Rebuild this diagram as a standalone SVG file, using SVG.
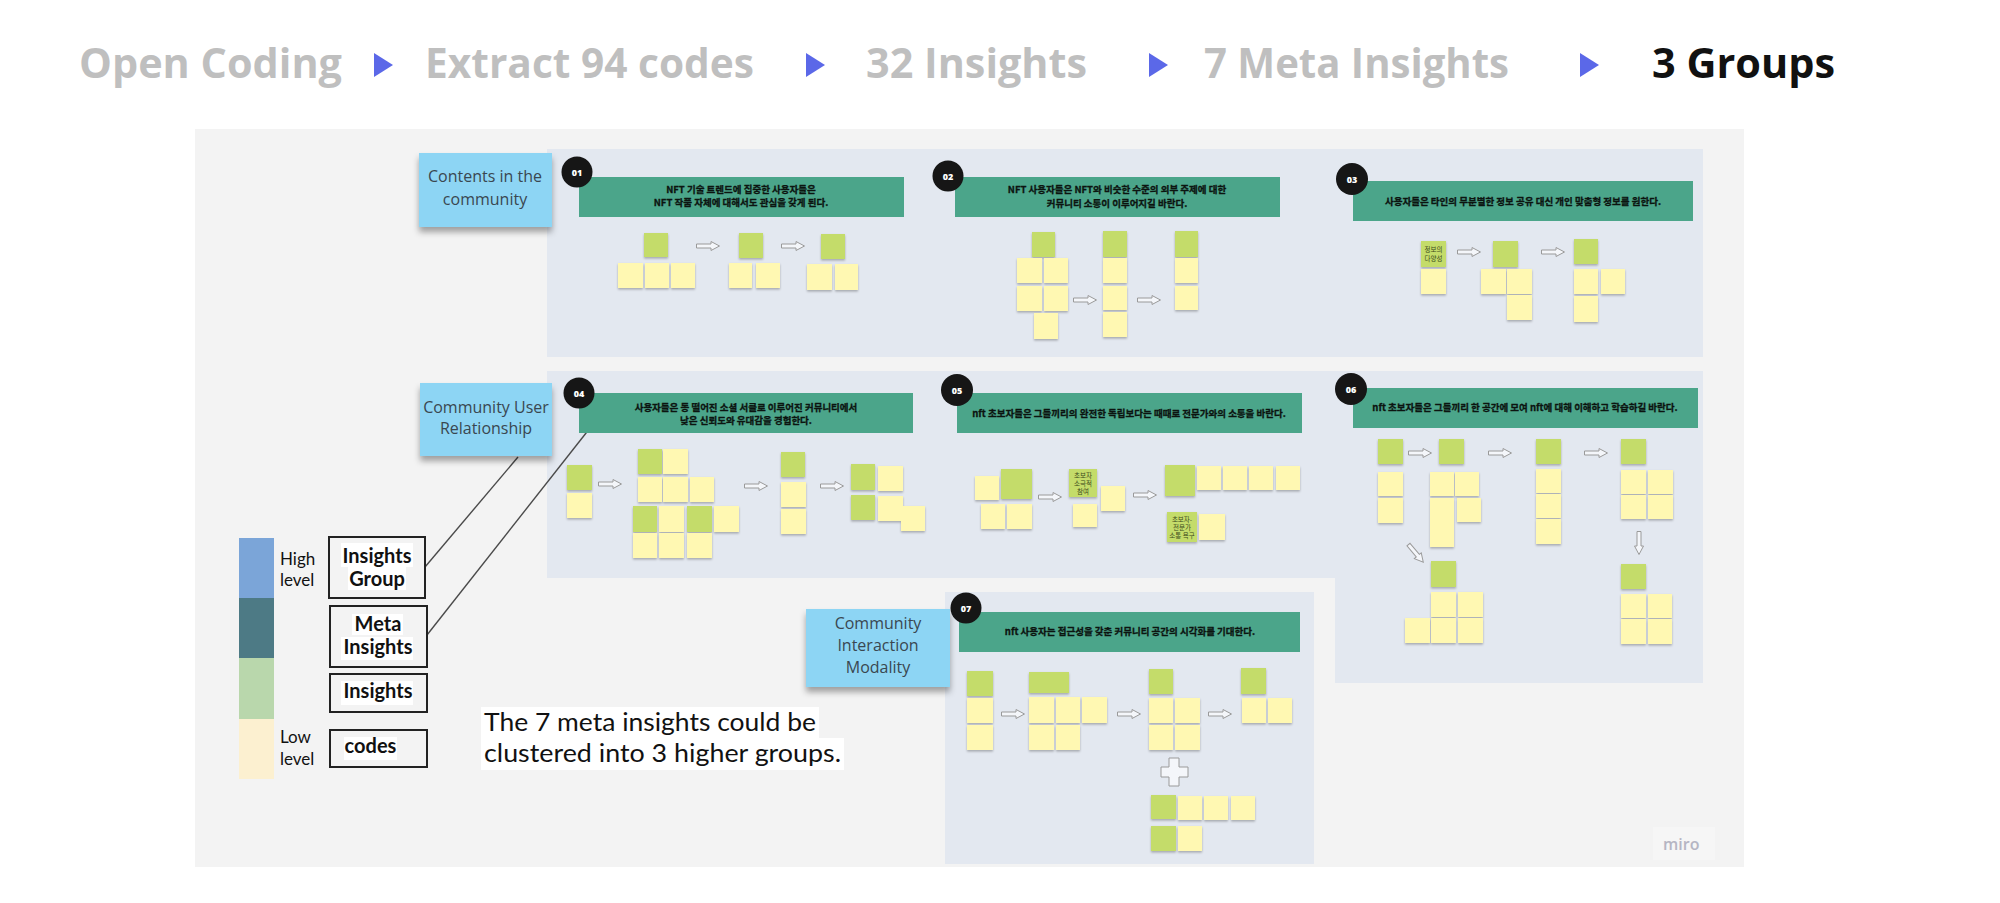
<svg xmlns="http://www.w3.org/2000/svg" width="2000" height="903" viewBox="0 0 2000 903">
<defs>
<style>
.hd{font-family:"Open Sans","Noto Sans",sans-serif;font-weight:700;font-size:42px;fill:#bfbfbf}
.tri{fill:#5b68e8}
.panel{fill:#e3e8f0}
.bar{fill:#4ba58a}
.bt{font-family:"Noto Sans CJK KR","Noto Sans",sans-serif;font-size:9.5px;font-weight:700;fill:#0c1410;stroke:#0c1410;stroke-width:0.3;text-anchor:middle}
.circ{fill:#161616}
.ct{font-family:"Open Sans",sans-serif;font-size:9px;font-weight:800;fill:#fff;text-anchor:middle}
.sg{fill:#c4dc6a}
.sy{fill:#fff8b2}
.st{font-family:"Noto Sans CJK KR",sans-serif;font-size:6.5px;fill:#3b4a1a;text-anchor:middle}
.blue{fill:#8dd5f4}
.bl{font-family:"Open Sans","Noto Sans",sans-serif;font-size:16px;fill:#3a4750;text-anchor:middle}
.lg{font-family:Lato,"Open Sans",sans-serif;font-size:17px;fill:#111}
.lb{font-family:Lato,"Open Sans",sans-serif;font-size:20px;font-weight:700;fill:#111;text-anchor:middle}
.box{fill:none;stroke:#222;stroke-width:2}
.wh{fill:#fff}
.conn{stroke:#4a4a4a;stroke-width:1.4;fill:none}
.cap{font-family:Lato,"Open Sans",sans-serif;font-size:25px;fill:#111}
</style>
<filter id="ss" x="-20%" y="-20%" width="140%" height="160%"><feDropShadow dx="0" dy="1.5" stdDeviation="0.8" flood-color="#000" flood-opacity="0.28"/></filter>
<filter id="bs" x="-20%" y="-20%" width="140%" height="160%"><feDropShadow dx="0" dy="5" stdDeviation="3" flood-color="#000" flood-opacity="0.35"/></filter>
<path id="arr" d="M0.5,3 H15 V0.5 L23.5,5 L15,9.5 V7 H0.5 Z" fill="#f4f6fa" stroke="#9a9a9a" stroke-width="1"/>
</defs>

<rect width="2000" height="903" fill="#ffffff"/>

<g id="header">
<text class="hd" x="79" y="78" textLength="263" lengthAdjust="spacingAndGlyphs">Open Coding</text>
<polygon class="tri" points="374,53 393,65 374,77"/>
<text class="hd" x="425" y="78" textLength="329" lengthAdjust="spacingAndGlyphs">Extract 94 codes</text>
<polygon class="tri" points="806,53 825,65 806,77"/>
<text class="hd" x="866" y="78" textLength="221" lengthAdjust="spacingAndGlyphs">32 Insights</text>
<polygon class="tri" points="1149,53 1168,65 1149,77"/>
<text class="hd" x="1204" y="78" textLength="305" lengthAdjust="spacingAndGlyphs">7 Meta Insights</text>
<polygon class="tri" points="1580,53 1599,65 1580,77"/>
<text class="hd" x="1652" y="78" textLength="183" lengthAdjust="spacingAndGlyphs" style="fill:#111">3 Groups</text>
</g>

<g id="board">
<rect x="195" y="129" width="1549" height="738" fill="#f3f3f3"/>
<rect x="1653" y="827" width="62" height="33" fill="#f6f6f6"/>
<text x="1663" y="850" style="font-family:'Open Sans',sans-serif;font-size:16px;font-weight:600;fill:#b5b5c3">miro</text>
<rect class="panel" x="547" y="149" width="1156" height="208"/>
<rect class="panel" x="547" y="371" width="788" height="207"/>
<rect class="panel" x="1335" y="371" width="368" height="312"/>
<rect class="panel" x="945" y="592" width="369" height="272"/>
</g>

<g id="connectors">
<line class="conn" x1="425" y1="567" x2="518" y2="457"/>
<line class="conn" x1="427" y1="635" x2="590" y2="428"/>
</g>

<g id="label-contents">
<rect class="blue" x="419" y="153" width="133" height="74" filter="url(#bs)"/>
<text class="bl" x="485" y="182">Contents in the</text>
<text class="bl" x="485" y="205">community</text>
</g>
<g id="label-relationship">
<rect class="blue" x="420" y="383" width="132" height="73" filter="url(#bs)"/>
<text class="bl" x="486" y="413">Community User</text>
<text class="bl" x="486" y="434">Relationship</text>
</g>
<g id="label-modality">
<rect class="blue" x="806" y="609" width="144" height="78" filter="url(#bs)"/>
<text class="bl" x="878" y="629">Community</text>
<text class="bl" x="878" y="651">Interaction</text>
<text class="bl" x="878" y="673">Modality</text>
</g>

<g id="insight-01">
<rect class="bar" x="579" y="177" width="325" height="40"/>
<circle class="circ" cx="577" cy="172" r="15.5"/><text class="ct" x="577" y="175.5">01</text>
<text class="bt" x="741" y="193">NFT 기술 트렌드에 집중한 사용자들은</text>
<text class="bt" x="741" y="206">NFT 작품 자체에 대해서도 관심을 갖게 된다.</text>
<g filter="url(#ss)">
<rect class="sg" x="644" y="233" width="24" height="24"/><rect class="sg" x="739" y="233" width="24" height="25"/><rect class="sg" x="821" y="234" width="24" height="25"/>
<rect class="sy" x="618" y="263" width="25" height="25"/><rect class="sy" x="645" y="263" width="24" height="25"/><rect class="sy" x="671" y="263" width="24" height="25"/>
<rect class="sy" x="729" y="263" width="23" height="25"/><rect class="sy" x="756" y="263" width="24" height="25"/>
<rect class="sy" x="807" y="264" width="25" height="26"/><rect class="sy" x="835" y="264" width="23" height="26"/>
</g>
<use href="#arr" x="696" y="241"/><use href="#arr" x="781" y="241"/>
</g>

<g id="insight-02">
<rect class="bar" x="955" y="177" width="325" height="40"/>
<circle class="circ" cx="948" cy="176" r="15.5"/><text class="ct" x="948" y="179.5">02</text>
<text class="bt" x="1117" y="193">NFT 사용자들은 NFT와 비슷한 수준의 외부 주제에 대한</text>
<text class="bt" x="1117" y="206.5">커뮤니티 소통이 이루어지길 바란다.</text>
<g filter="url(#ss)">
<rect class="sg" x="1032" y="232" width="23" height="25"/><rect class="sg" x="1103" y="231" width="24" height="26"/><rect class="sg" x="1175" y="231" width="23" height="26"/>
<rect class="sy" x="1017" y="258" width="25" height="25"/><rect class="sy" x="1044" y="258" width="24" height="25"/>
<rect class="sy" x="1017" y="286" width="25" height="25"/><rect class="sy" x="1044" y="286" width="24" height="25"/>
<rect class="sy" x="1034" y="313" width="24" height="26"/>
<rect class="sy" x="1103" y="258" width="24" height="25"/><rect class="sy" x="1103" y="286" width="24" height="24"/><rect class="sy" x="1103" y="312" width="24" height="25"/>
<rect class="sy" x="1175" y="258" width="23" height="25"/><rect class="sy" x="1175" y="286" width="23" height="24"/>
</g>
<use href="#arr" x="1073" y="295"/><use href="#arr" x="1137" y="295"/>
</g>

<g id="insight-03">
<rect class="bar" x="1353" y="181" width="340" height="40"/>
<circle class="circ" cx="1352" cy="179" r="16"/><text class="ct" x="1352" y="182.5">03</text>
<text class="bt" x="1523" y="204.5">사용자들은 타인의 무분별한 정보 공유 대신 개인 맞춤형 정보를 원한다.</text>
<g filter="url(#ss)">
<rect class="sg" x="1421" y="241" width="25" height="26"/><rect class="sg" x="1493" y="241" width="25" height="26"/><rect class="sg" x="1574" y="239" width="24" height="25"/>
<rect class="sy" x="1421" y="269" width="25" height="25"/>
<rect class="sy" x="1481" y="269" width="25" height="25"/><rect class="sy" x="1507" y="269" width="25" height="25"/><rect class="sy" x="1507" y="295" width="25" height="25"/>
<rect class="sy" x="1574" y="269" width="24" height="25"/><rect class="sy" x="1601" y="269" width="24" height="25"/><rect class="sy" x="1574" y="296" width="24" height="26"/>
</g>
<text class="st" x="1433.5" y="252">정보의</text><text class="st" x="1433.5" y="261">다양성</text>
<use href="#arr" x="1457" y="247"/><use href="#arr" x="1541" y="247"/>
</g>

<g id="insight-04">
<rect class="bar" x="579" y="393" width="334" height="40"/>
<circle class="circ" cx="579" cy="393" r="15.5"/><text class="ct" x="579" y="396.5">04</text>
<text class="bt" x="746" y="410.5">사용자들은 동 떨어진 소셜 서클로 이루어진 커뮤니티에서</text>
<text class="bt" x="746" y="423.5">낮은 신뢰도와 유대감을 경험한다.</text>
<g filter="url(#ss)">
<rect class="sg" x="567" y="465" width="25" height="25"/><rect class="sy" x="567" y="493" width="25" height="25"/>
<rect class="sg" x="638" y="449" width="24" height="25"/><rect class="sy" x="663" y="449" width="25" height="25"/>
<rect class="sy" x="638" y="477" width="24" height="25"/><rect class="sy" x="663" y="477" width="25" height="25"/><rect class="sy" x="690" y="477" width="24" height="25"/>
<rect class="sg" x="633" y="506" width="24" height="26"/><rect class="sy" x="659" y="506" width="25" height="26"/><rect class="sg" x="687" y="506" width="25" height="26"/><rect class="sy" x="714" y="506" width="25" height="26"/>
<rect class="sy" x="633" y="533" width="24" height="25"/><rect class="sy" x="659" y="533" width="25" height="25"/><rect class="sy" x="687" y="533" width="25" height="25"/>
<rect class="sg" x="781" y="452" width="24" height="25"/><rect class="sy" x="781" y="482" width="25" height="25"/><rect class="sy" x="781" y="509" width="25" height="25"/>
<rect class="sg" x="851" y="464" width="24" height="26"/><rect class="sy" x="878" y="466" width="25" height="25"/>
<rect class="sg" x="851" y="495" width="24" height="25"/><rect class="sy" x="878" y="496" width="25" height="25"/><rect class="sy" x="901" y="506" width="24" height="25"/>
</g>
<use href="#arr" x="598" y="479"/><use href="#arr" x="744" y="481"/><use href="#arr" x="820" y="481"/>
</g>

<g id="insight-05">
<rect class="bar" x="957" y="393" width="345" height="40"/>
<circle class="circ" cx="957" cy="390" r="16"/><text class="ct" x="957" y="393.5">05</text>
<text class="bt" x="1129" y="416.5">nft 초보자들은 그들끼리의 완전한 독립보다는 때때로 전문가와의 소통을 바란다.</text>
<g filter="url(#ss)">
<rect class="sy" x="975" y="476" width="24" height="24"/><rect class="sg" x="1001" y="469" width="31" height="30"/>
<rect class="sy" x="981" y="504" width="24" height="25"/><rect class="sy" x="1007" y="504" width="25" height="25"/>
<rect class="sg" x="1069" y="469" width="28" height="28"/><rect class="sy" x="1073" y="504" width="24" height="23"/><rect class="sy" x="1101" y="486" width="24" height="25"/>
<rect class="sg" x="1165" y="465" width="30" height="31"/>
<rect class="sy" x="1197" y="466" width="24" height="24"/><rect class="sy" x="1223" y="466" width="24" height="24"/><rect class="sy" x="1249" y="466" width="24" height="24"/><rect class="sy" x="1276" y="466" width="24" height="24"/>
<rect class="sg" x="1167" y="512" width="30" height="30"/><rect class="sy" x="1199" y="514" width="26" height="26"/>
</g>
<text class="st" x="1083" y="478">초보자</text><text class="st" x="1083" y="486">소극적</text><text class="st" x="1083" y="494">참여</text>
<text class="st" x="1182" y="522">초보자-</text><text class="st" x="1182" y="530">전문가</text><text class="st" x="1182" y="538">소통 욕구</text>
<use href="#arr" x="1038" y="492"/><use href="#arr" x="1133" y="490"/>
</g>

<g id="insight-06">
<rect class="bar" x="1353" y="388" width="345" height="40"/>
<circle class="circ" cx="1351" cy="389" r="16"/><text class="ct" x="1351" y="392.5">06</text>
<text class="bt" x="1525" y="410.5">nft 초보자들은 그들끼리 한 공간에 모여 nft에 대해 이해하고 학습하길 바란다.</text>
<g filter="url(#ss)">
<rect class="sg" x="1378" y="439" width="25" height="25"/><rect class="sy" x="1378" y="472" width="25" height="24"/><rect class="sy" x="1378" y="498" width="25" height="25"/>
<rect class="sg" x="1439" y="439" width="25" height="25"/>
<rect class="sy" x="1430" y="472" width="24" height="24"/><rect class="sy" x="1455" y="472" width="24" height="24"/>
<rect class="sy" x="1430" y="498" width="24" height="25"/><rect class="sy" x="1457" y="498" width="24" height="24"/><rect class="sy" x="1430" y="523" width="24" height="24"/>
<rect class="sg" x="1431" y="561" width="25" height="26"/>
<rect class="sy" x="1431" y="592" width="25" height="25"/><rect class="sy" x="1458" y="592" width="25" height="25"/>
<rect class="sy" x="1405" y="618" width="25" height="25"/><rect class="sy" x="1431" y="618" width="25" height="25"/><rect class="sy" x="1458" y="618" width="25" height="25"/>
<rect class="sg" x="1536" y="439" width="25" height="25"/><rect class="sy" x="1536" y="469" width="25" height="24"/><rect class="sy" x="1536" y="494" width="25" height="24"/><rect class="sy" x="1536" y="519" width="25" height="25"/>
<rect class="sg" x="1621" y="439" width="25" height="25"/>
<rect class="sy" x="1621" y="470" width="25" height="24"/><rect class="sy" x="1621" y="495" width="25" height="24"/><rect class="sy" x="1648" y="470" width="25" height="24"/><rect class="sy" x="1648" y="495" width="25" height="24"/>
<rect class="sg" x="1621" y="564" width="25" height="25"/>
<rect class="sy" x="1621" y="594" width="25" height="24"/><rect class="sy" x="1648" y="594" width="24" height="24"/><rect class="sy" x="1621" y="619" width="25" height="25"/><rect class="sy" x="1648" y="619" width="24" height="25"/>
</g>
<use href="#arr" x="1408" y="448"/><use href="#arr" x="1488" y="448"/><use href="#arr" x="1584" y="448"/>
<use href="#arr" transform="translate(1644,531) rotate(90)"/>
<use href="#arr" transform="translate(1412,541) rotate(50)"/>
</g>

<g id="insight-07">
<rect class="bar" x="959" y="612" width="341" height="40"/>
<circle class="circ" cx="966" cy="608" r="15.5"/><text class="ct" x="966" y="611.5">07</text>
<text class="bt" x="1130" y="634.5">nft 사용자는 접근성을 갖춘 커뮤니티 공간의 시각화를 기대한다.</text>
<g filter="url(#ss)">
<rect class="sg" x="967" y="671" width="26" height="25"/><rect class="sy" x="967" y="698" width="26" height="25"/><rect class="sy" x="967" y="725" width="26" height="25"/>
<rect class="sg" x="1029" y="672" width="40" height="21"/>
<rect class="sy" x="1029" y="697" width="25" height="26"/><rect class="sy" x="1056" y="697" width="24" height="26"/><rect class="sy" x="1082" y="697" width="25" height="26"/>
<rect class="sy" x="1029" y="725" width="25" height="25"/><rect class="sy" x="1056" y="725" width="24" height="25"/>
<rect class="sg" x="1149" y="669" width="24" height="25"/>
<rect class="sy" x="1149" y="698" width="24" height="25"/><rect class="sy" x="1175" y="698" width="25" height="25"/><rect class="sy" x="1149" y="725" width="24" height="25"/><rect class="sy" x="1175" y="725" width="25" height="25"/>
<rect class="sg" x="1151" y="795" width="25" height="24"/><rect class="sy" x="1178" y="796" width="24" height="24"/><rect class="sy" x="1204" y="796" width="24" height="24"/><rect class="sy" x="1231" y="796" width="24" height="24"/>
<rect class="sg" x="1151" y="826" width="25" height="25"/><rect class="sy" x="1178" y="826" width="24" height="25"/>
<rect class="sg" x="1241" y="668" width="25" height="26"/><rect class="sy" x="1242" y="698" width="24" height="25"/><rect class="sy" x="1268" y="698" width="24" height="25"/>
</g>
<use href="#arr" x="1001" y="709"/><use href="#arr" x="1117" y="709"/><use href="#arr" x="1208" y="709"/>
<path d="M1169,758 H1179 V767 H1188 V777 H1179 V786 H1169 V777 H1161 V767 H1169 Z" fill="#f4f6fa" stroke="#9a9a9a" stroke-width="1"/>
</g>

<g id="legend">
<rect x="239" y="538" width="35" height="60" fill="#7ba5d8"/>
<rect x="239" y="598" width="35" height="60" fill="#4d7a85"/>
<rect x="239" y="658" width="35" height="61" fill="#b9d7ac"/>
<rect x="239" y="719" width="35" height="60" fill="#fcf0d0"/>
<text class="lg" x="280" y="565">High</text>
<text class="lg" x="280" y="586">level</text>
<text class="lg" x="280" y="743">Low</text>
<text class="lg" x="280" y="765">level</text>
</g>
<g id="legend-insights-group">
<rect class="box" x="329" y="537" width="96" height="61"/>
<rect class="wh" x="341" y="543" width="72" height="24"/><rect class="wh" x="348" y="567" width="58" height="23"/>
<text class="lb" x="377" y="563">Insights</text>
<text class="lb" x="377" y="586">Group</text>
</g>
<g id="legend-meta-insights">
<rect class="box" x="330" y="606" width="97" height="61"/>
<rect class="wh" x="352" y="614" width="51" height="21"/><rect class="wh" x="341" y="637" width="72" height="23"/>
<text class="lb" x="378" y="631">Meta</text>
<text class="lb" x="378" y="654">Insights</text>
</g>
<g id="legend-insights">
<rect class="box" x="330" y="674" width="97" height="38"/>
<rect class="wh" x="341" y="681" width="72" height="24"/>
<text class="lb" x="378" y="698">Insights</text>
</g>
<g id="legend-codes">
<rect class="box" x="330" y="730" width="97" height="37"/>
<rect class="wh" x="344" y="737" width="53" height="23"/>
<text class="lb" x="370.5" y="753">codes</text>
</g>

<g id="caption">
<rect class="wh" x="481" y="707" width="338" height="31"/>
<rect class="wh" x="481" y="738" width="363" height="32"/>
<text class="cap" x="484" y="731" textLength="332" lengthAdjust="spacingAndGlyphs">The 7 meta insights could be</text>
<text class="cap" x="484" y="762" textLength="357" lengthAdjust="spacingAndGlyphs">clustered into 3 higher groups.</text>
</g>
</svg>
